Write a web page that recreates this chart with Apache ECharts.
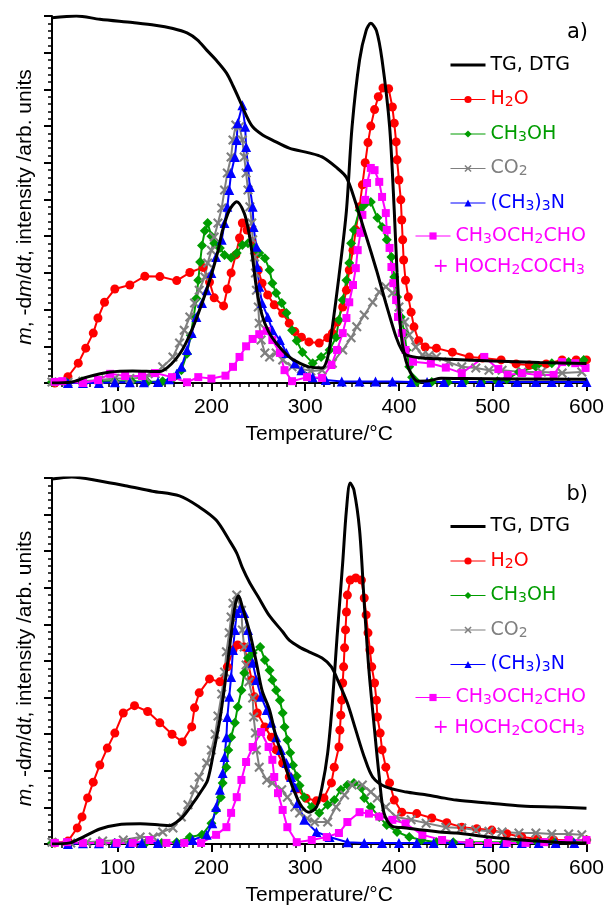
<!DOCTYPE html>
<html><head><meta charset="utf-8">
<script src="https://cdn.jsdelivr.net/npm/echarts@6/dist/echarts.min.js"></script>
<style>html,body{margin:0;padding:0;background:#fff}#c{width:607px;height:911px}</style>
</head><body><div id="c"></div>
<script>
// ---------- tick labels / categories ----------
const xTickLabels = [100, 200, 300, 400, 500, 600];
const seriesNames = ['TG, DTG', 'H2O', 'CH3OH', 'CO2', '(CH3)3N', 'CH3OCH2CHO'];

// ---------- panel a) ----------
const aTG = [[30,99.5],[56,100],[81,99.1],[116,98.2],[140,97.5],[159,96.6],[174,95.4],[185,93.5],[195,90.7],[205,88],[216,84.5],[223,81],[230,77.1],[237,73],[244,69.8],[255,67.5],[265,66.2],[283,64],[304,62.7],[318,61.6],[333,58.8],[344,56],[354,49],[365,40],[376,30.8],[386,21.8],[397,12.5],[403,9],[408,7.6],[425,6.8],[443,6.6],[500,6],[550,5.6],[600,5.3]];
const aDTG = [[30,0],[50,0.2],[67,1.6],[92,3.0],[116,3.3],[145,3.1],[153,4.2],[162,6.5],[170,9.5],[180,15],[191,22.5],[200,29.5],[207,36],[212,41.7],[219,47],[227,49.4],[235,46.3],[240,41],[243,36],[248,26],[254,18.5],[261,14],[269,10.9],[283,7.1],[294,5.4],[304,4.4],[318,4.1],[324,7],[329,15.3],[336,29],[344,47],[350,69.8],[358,88],[365,96],[370,98],[376,96],[382,88],[390,70],[395,47],[398,30],[402,14],[406,7.5],[412,3],[420,0.5],[432,0.6],[445,1.3],[470,1.2],[600,1.0]];
const aH2O = [[33,0],[47,1.7],[58,5.4],[66,9.5],[74,13.6],[79,17.7],[86,22],[97,25.6],[113,26.7],[129,29.1],[145,29],[163,27.9],[177,30.1],[191,31.5],[198,27.5],[203,23.2],[213,21],[217,25.6],[221,30],[226,34.9],[230,39.5],[233,43.6],[238,41.7],[243,38.4],[247,34.9],[250,30.8],[254,27.2],[260,24],[267,21.3],[276,19],[283,16.3],[289,14],[296,12.5],[304,11.2],[315,10.9],[324,12.3],[329,13.6],[334,16.6],[340,20.7],[344,25.3],[347,30.8],[351,36.2],[354,41.7],[358,48],[361,54],[364,60],[367,65.5],[370,70],[374,74.5],[378,78],[383,80.4],[389,80.2],[393,75.2],[395,70.8],[397,65.7],[398,60.8],[400,55.3],[402,49.9],[403,44.4],[404,39],[405,33.5],[407,28],[410,23.4],[413,19.3],[416,15.3],[421,11.5],[428,9.8],[440,9.5],[457,8.4],[475,7.1],[489,6.8],[509,6.3],[525,5.2],[539,4.9],[557,5.2],[574,6.3],[589,6.3],[600,6.3]];
const aMeOH = [[30,0.3],[45,0.3],[62,0.5],[80,0.5],[97,0.5],[115,0.5],[132,0.3],[148,0.5],[160,1.5],[168,3.5],[174,8],[178,13],[181,18],[184,23],[186,28],[188,33],[190,37.5],[193,41.5],[196,43.6],[200,40],[203,38.1],[209,36.8],[214,34.9],[221,34.1],[227,35.4],[233,37.6],[239,38.1],[246,36.8],[251,35.4],[257,34],[262,30.8],[265,27.2],[269,24.5],[275,21.8],[280,19.1],[286,14.4],[291,11.5],[297,8.4],[308,5.4],[317,7.1],[326,9],[333,12.5],[336,17.2],[340,22.6],[344,28],[347,32.7],[349,38.1],[352,41.7],[358,47.1],[363,48.5],[370,49.3],[377,45],[382,42.5],[387,39],[392,34.3],[395,28.9],[398,23.4],[402,18],[406,13.6],[408,9],[411,4.4],[414,1.6],[419,0.3],[435,0.3],[452,0.2],[470,0.3],[488,0.3],[505,0.5],[515,1],[528,3],[546,4.4],[563,5.4],[581,5.7],[597,6.3]];
const aCO2 = [[30,0.3],[47,0.2],[63,0.5],[80,0.8],[97,1.2],[113,1.2],[130,1.5],[140,2.5],[148,4.4],[159,7.1],[166,10.9],[171,14.4],[177,18],[182,21.8],[187,25.3],[193,28.9],[196,32.7],[200,36.2],[203,39.8],[207,43.6],[211,47.7],[214,52.6],[217,57.2],[221,61.6],[223,66.2],[226,70.3],[230,69.8],[233,66.2],[235,61.6],[237,57.2],[239,52.6],[241,48],[243,43.6],[244,39],[246,34.3],[247,30],[248,25.3],[250,20.7],[251,16.3],[253,11.7],[257,8.2],[262,7.1],[269,8.2],[276,6.3],[286,4.4],[296,3.8],[306,3.3],[318,3.5],[329,5.4],[340,9],[349,12.3],[355,15.3],[363,18.5],[372,22],[379,24.8],[386,26.2],[393,24.5],[400,20.7],[406,16.6],[411,13.1],[418,9.8],[425,7.6],[432,7.5],[440,7.1],[453,5.7],[467,4.4],[482,4.1],[496,3.5],[510,3.5],[531,3],[552,3],[574,2.7],[595,3]];
const aTMA = [[47,0],[63,0],[80,0],[97,0.2],[113,0.2],[128,0.2],[143,0.3],[155,1],[163,2.5],[168,4.4],[174,9],[179,13.6],[184,18],[190,21.8],[195,25.3],[200,30],[205,34.3],[211,39],[214,43.6],[217,48],[219,52.6],[221,57.2],[225,61.6],[227,66.2],[228,70.8],[233,75.7],[236,69.8],[237,64.3],[239,58.9],[241,53.4],[244,48],[245,42.5],[248,37.1],[249,31.6],[251,26.2],[254,21.8],[260,18],[265,14.4],[273,11.7],[280,8.2],[289,5.4],[296,3.5],[308,1.6],[322,0.8],[339,0.4],[358,0.4],[375,0.4],[393,0.4],[413,0.3],[430,0.3],[448,0.3],[467,0.3],[487,0.3],[507,0.3],[526,0.3],[546,0.3],[563,0.3],[581,0.3],[600,0.3]];
const aMag = [[33,0.3],[41,0.5],[63,0],[79,0.8],[92,2.5],[108,1.9],[126,1.9],[140,2.7],[158,1.6],[174,0.2],[186,1.6],[200,1.2],[215,2],[223,4.4],[230,7.1],[237,10],[244,12],[251,13.3],[259,14.2],[265,11.7],[273,8.2],[278,3.5],[286,0.5],[302,1.6],[318,1.4],[328,4.9],[334,9],[340,13.6],[344,17.7],[347,22],[351,26.7],[354,31.3],[356,36.2],[359,40.9],[361,45.8],[364,49.9],[366,54.5],[370,58.6],[374,58],[379,54.8],[382,50.7],[386,46.3],[387,41.7],[390,36.8],[392,31.6],[394,27.2],[397,22.6],[399,18],[403,13.6],[407,9],[415,5.8],[434,5.3],[450,4.2],[467,2.7],[491,7.1],[506,3.8],[516,2.2],[531,2.7],[548,2.2],[565,2.2],[574,5.7],[588,5.4],[599,4.1]];

// ---------- panel b) ----------
const bTG = [[30,99.7],[51,100.3],[81,99.2],[110,97.8],[137,96.4],[166,95.1],[187,92.1],[205,88.5],[219,83],[227,79.5],[233,75.5],[241,71.3],[250,67.5],[262,62.3],[276,58],[283,55.7],[294,53.8],[304,52.5],[318,50.8],[328,48.4],[336,44],[345,38.5],[354,31.1],[363,23.8],[372,18.3],[386,15.6],[408,14.2],[425,13.6],[443,12.8],[461,12],[496,11.2],[531,10.4],[567,10.1],[600,9.8]];
const bDTG = [[30,0],[49,0.3],[63,1.9],[81,4.1],[99,5.2],[124,5.5],[145,5.2],[155,5],[163,6],[170,7.6],[180,11],[188,14],[196,17.5],[203,26],[209,34],[214,43],[219,53],[225,64.8],[229,67.8],[233,64.8],[241,57.7],[248,49.5],[254,42],[262,36.6],[269,29.2],[276,23.8],[283,18],[291,12.8],[297,10],[304,8.7],[312,10.1],[318,15.6],[324,24.9],[329,38.5],[334,56.6],[340,76.8],[344,91.3],[348,98.6],[352,96.7],[358,85.8],[363,65.8],[368,47.5],[374,31.1],[379,18.3],[384,8.5],[393,4.8],[408,4.4],[425,3.8],[443,3.3],[461,3],[496,1.9],[531,1.1],[567,0.5],[600,0.3]];
const bH2O = [[33,0.3],[47,0.8],[57,4.4],[62,7.4],[68,12.6],[74,16.9],[81,21.6],[89,26.2],[97,30.3],[106,35.8],[118,37.8],[132,36.2],[145,33.1],[158,30],[169,27.9],[179,32],[182,37.2],[187,41.3],[198,45.1],[209,44.3],[217,48.4],[223,53],[228,54.4],[235,53.8],[239,49.5],[243,44.8],[246,40.2],[249,35.8],[257,32],[264,29.2],[269,25.7],[276,22.1],[283,18.3],[291,15],[301,12.5],[312,11.8],[320,12.6],[328,16.7],[331,21],[336,26.5],[337,31.1],[338,35.2],[339,39.3],[340,44],[341,48.4],[342,53.6],[343,58.5],[344,63.4],[345,68],[348,72.1],[354,72.7],[360,72.1],[363,67.2],[365,62.6],[367,57.7],[369,53],[371,48.4],[374,44],[376,39.3],[377,34.7],[380,30.3],[382,25.7],[386,21],[390,16.7],[395,12],[403,8.7],[419,8.3],[435,7.1],[451,5.8],[467,4.6],[483,4.2],[499,3.8],[515,2.8],[531,1.9],[548,1.4],[565,1.1],[582,1.1],[600,1.1]];
const bMeOH = [[30,0.3],[47,0.3],[63,0.3],[80,0.3],[97,0.3],[113,0.3],[130,0.3],[147,0.3],[163,0.5],[177,1.9],[190,2.5],[200,5.7],[205,9.3],[210,12.8],[212,16.7],[216,21],[218,25.7],[221,29.2],[225,33.1],[228,37.4],[232,42],[235,46.7],[239,50.8],[244,52.2],[252,53.8],[257,50.3],[262,47.5],[265,44.8],[269,42],[273,39.3],[276,35.8],[278,32],[281,28.4],[284,24.9],[287,21.5],[291,18.5],[294,16],[299,12.8],[307,10.1],[315,8.5],[324,10.7],[331,12],[338,14.8],[345,16.1],[352,16.7],[360,15.3],[363,12.6],[370,10.1],[379,7.4],[387,5.2],[398,3.3],[411,1.9],[424,1.1],[440,0.5],[458,0.5],[476,0.5],[494,0.5],[512,0.5],[530,0.5],[548,0.5],[566,0.5],[584,0.8],[600,1.1]];
const bCO2 = [[30,0.5],[50,0.3],[67,0.5],[84,0.8],[106,1.1],[124,1.9],[138,1.9],[148,3.3],[159,4.4],[168,7.4],[175,10.7],[182,14.8],[187,18.3],[195,22.1],[200,25.7],[204,30],[207,35],[211,41],[214,47],[216,52.5],[219,57.7],[221,62],[223,65.8],[227,68],[232,63.9],[233,58.5],[235,53.8],[237,48.9],[240,44.3],[244,39.9],[245,34.7],[247,30.3],[248,25.7],[251,21],[259,17.5],[265,16.7],[275,14.8],[281,12.8],[289,10.1],[294,8.5],[302,7],[310,6],[324,6],[333,10.1],[342,13.4],[350,16.1],[361,16.1],[370,14.2],[377,12.6],[386,10.1],[397,7.4],[413,6.6],[429,5.7],[450,4.6],[467,4.4],[482,3.8],[496,3.5],[510,3.3],[528,3],[546,3],[563,2.7],[581,2.7],[595,2.5]];
const bTMA = [[47,0],[63,0.2],[80,0.2],[97,0.3],[113,0.3],[126,0.3],[143,0.3],[163,0.3],[180,1.1],[195,2.5],[201,5.7],[205,10.1],[209,14.8],[212,19.4],[214,23.8],[216,29.2],[217,34.7],[219,40.2],[221,45.6],[223,53],[225,58.5],[227,63.1],[231,64.5],[235,63.1],[239,58.5],[241,53.8],[244,49.5],[248,44.8],[253,40.2],[259,36.6],[264,33.1],[269,29.2],[274,25.7],[280,22.1],[285,18.3],[289,15.5],[292,11.2],[299,6.6],[312,3.3],[326,1.9],[345,0.5],[363,0.3],[382,0.3],[400,0.3],[419,0.3],[437,0.3],[457,0.3],[475,0.3],[494,0.3],[512,0.3],[531,0.3],[549,0.3],[567,0.3],[587,0.3]];
const bMag = [[33,0.3],[46,0.5],[63,0.3],[81,0.3],[99,0.3],[116,0.3],[134,1.1],[152,0.3],[171,0.3],[189,0.3],[205,2.5],[216,4.6],[221,8.5],[227,12.8],[232,17.5],[237,22.4],[244,26.5],[253,30.6],[261,26.5],[265,23],[267,18.3],[271,13.9],[276,9.3],[281,4.6],[291,0.5],[307,1.1],[323,1.9],[336,3],[345,6],[358,8.7],[368,8.3],[379,7.5],[393,6.6],[407,5.6],[425,2.5],[446,1.1],[475,0.3],[495,0.3],[515,0.3],[535,0.3],[555,0.5],[581,1.1],[600,1.1]];

// ---------- styling ----------
const C = {H2O:'#ff0000', CH3OH:'#009c00', CO2:'#7f7f7f', TMA:'#0000ff', MAG:'#ff00ff'};
const CROSS = 'path://M0,1.5L1.5,0L5,3.5L8.5,0L10,1.5L6.5,5L10,8.5L8.5,10L5,6.5L1.5,10L0,8.5L3.5,5Z';
const AX = 'Liberation Sans', LG = 'DejaVu Sans';
const GRIDS = [{left:52, top:16, width:536, height:367}, {left:52, top:478, width:536, height:366}];

function colored(name, data, color, symbol, size, xi, yi) {
  return {type:'line', name, data, xAxisIndex:xi, yAxisIndex:yi, symbol, symbolSize:size,
    showAllSymbol:true, lineStyle:{color, width:2}, itemStyle:{color}, z:2};
}
function black(data, xi, yi) {
  return {type:'line', name:'TG, DTG', data, xAxisIndex:xi, yAxisIndex:yi, symbol:'none',
    smooth:0.3, lineStyle:{color:'#000', width:3}, itemStyle:{color:'#000'}, z:5};
}
const panels = [[aTG,aDTG,aH2O,aMeOH,aCO2,aTMA,aMag],[bTG,bDTG,bH2O,bMeOH,bCO2,bTMA,bMag]];
const series = [];
panels.forEach((p, k) => {
  const xi = k * 2, yi = k;
  series.push(colored('H2O', p[2], C.H2O, 'circle', 9, xi, yi));
  series.push(colored('CH3OH', p[3], C.CH3OH, 'diamond', 10, xi, yi));
  series.push(colored('CO2', p[4], C.CO2, CROSS, 10, xi, yi));
  series.push(colored('(CH3)3N', p[5], C.TMA, 'triangle', 10, xi, yi));
  series.push(colored('CH3OCH2CHO', p[6], C.MAG, 'rect', 8, xi, yi));
  series.push(black(p[0], xi, yi));
  series.push(black(p[1], xi, yi));
});

const xAxes = [], yAxes = [];
GRIDS.forEach((g, k) => {
  xAxes.push({type:'value', gridIndex:k, min:30, max:600, position:'bottom',
    axisLine:{onZero:false, lineStyle:{color:'#000', width:2}},
    axisTick:{customValues:xTickLabels, length:8, lineStyle:{color:'#000', width:2}},
    axisLabel:{customValues:xTickLabels, color:'#000', fontFamily:AX, fontSize:21, margin:14},
    splitLine:{show:false},
    name:'Temperature/°C', nameLocation:'middle', nameGap:41,
    nameTextStyle:{color:'#000', fontFamily:AX, fontSize:21}});
  xAxes.push({type:'value', gridIndex:k, min:30, max:600, interval:10, position:'bottom',
    axisLine:{show:false, onZero:false}, axisTick:{length:4, lineStyle:{color:'#000', width:1.5}},
    axisLabel:{show:false}, splitLine:{show:false}});
  yAxes.push({type:'value', gridIndex:k, min:0, max:100, interval:10,
    axisLine:{show:true, onZero:false, lineStyle:{color:'#000', width:2}},
    axisTick:{show:true, length:8, lineStyle:{color:'#000', width:2}},
    minorTick:{show:true, splitNumber:5, length:4, lineStyle:{color:'#000', width:1.5}},
    axisLabel:{show:false}, splitLine:{show:false},
    name:'{i|m}, -d{i|m}/d{i|t}, intensity /arb. units', nameLocation:'middle', nameGap:16, nameRotate:90,
    nameTextStyle:{color:'#000', fontFamily:AX, fontSize:21, padding:[0,15,0,0],
      rich:{i:{fontStyle:'italic', fontFamily:AX, fontSize:21, color:'#000'}}}});
});

const subStyle = c => ({fontFamily:LG, fontSize:14, lineHeight:9, verticalAlign:'bottom', color:c});
const legendRich = {sr:subStyle(C.H2O), sg:subStyle(C.CH3OH), sk:subStyle(C.CO2), sb:subStyle(C.TMA), sm:subStyle(C.MAG)};
const legendLabel = {'TG, DTG':'TG, DTG', 'H2O':'H{sr|2}O', 'CH3OH':'CH{sg|3}OH', 'CO2':'CO{sk|2}',
  '(CH3)3N':'(CH{sb|3}){sb|3}N', 'CH3OCH2CHO':'CH{sm|3}OCH{sm|2}CHO'};
const itemColor = {'TG, DTG':'#000', 'H2O':C.H2O, 'CH3OH':C.CH3OH, 'CO2':C.CO2, '(CH3)3N':C.TMA, 'CH3OCH2CHO':C.MAG};
function legendItem(n) {
  const it = {name:n, textStyle:{color:itemColor[n]}};
  if (n === 'TG, DTG') { it.icon = 'path://M0,0L35,0L35,3L0,3Z'; it.itemStyle = {color:'#000'}; }
  else it.lineStyle = {width:1};
  return it;
}
function legend(names, left, top) {
  return {orient:'vertical', left, top, itemWidth:35, itemHeight:9, itemGap:14.5, selectedMode:false,
    data:names.map(legendItem), formatter:n => legendLabel[n],
    textStyle:{fontFamily:LG, fontSize:19, lineHeight:20, rich:legendRich}};
}
const legends = [];
const graphics = [];
[0, 461.5].forEach((dy, k) => {
  legends.push(legend(seriesNames.slice(0, 5), 445, 50 + dy));
  legends.push(legend(seriesNames.slice(5), 410, 221 + dy));
  graphics.push({type:'text', style:{text:'+ HOCH{s|2}COCH{s|3}', x:585, y:267 + dy,
    align:'right', verticalAlign:'middle', fill:C.MAG, fontFamily:LG, fontSize:19, lineHeight:20,
    rich:{s:{fontFamily:LG, fontSize:14, lineHeight:9, verticalAlign:'bottom', fill:C.MAG}}}});
  graphics.push({type:'text', style:{text:k === 0 ? 'a)' : 'b)', x:588, y:33 + dy, align:'right',
    verticalAlign:'middle', fill:'#000', fontFamily:LG, fontSize:21}});
});

const chart = echarts.init(document.getElementById('c'), null, {renderer:'canvas'});
chart.setOption({
  animation:false, backgroundColor:'#fff',
  grid:GRIDS, xAxis:xAxes, yAxis:yAxes, legend:legends, series, graphic:graphics
});
</script></body></html>
